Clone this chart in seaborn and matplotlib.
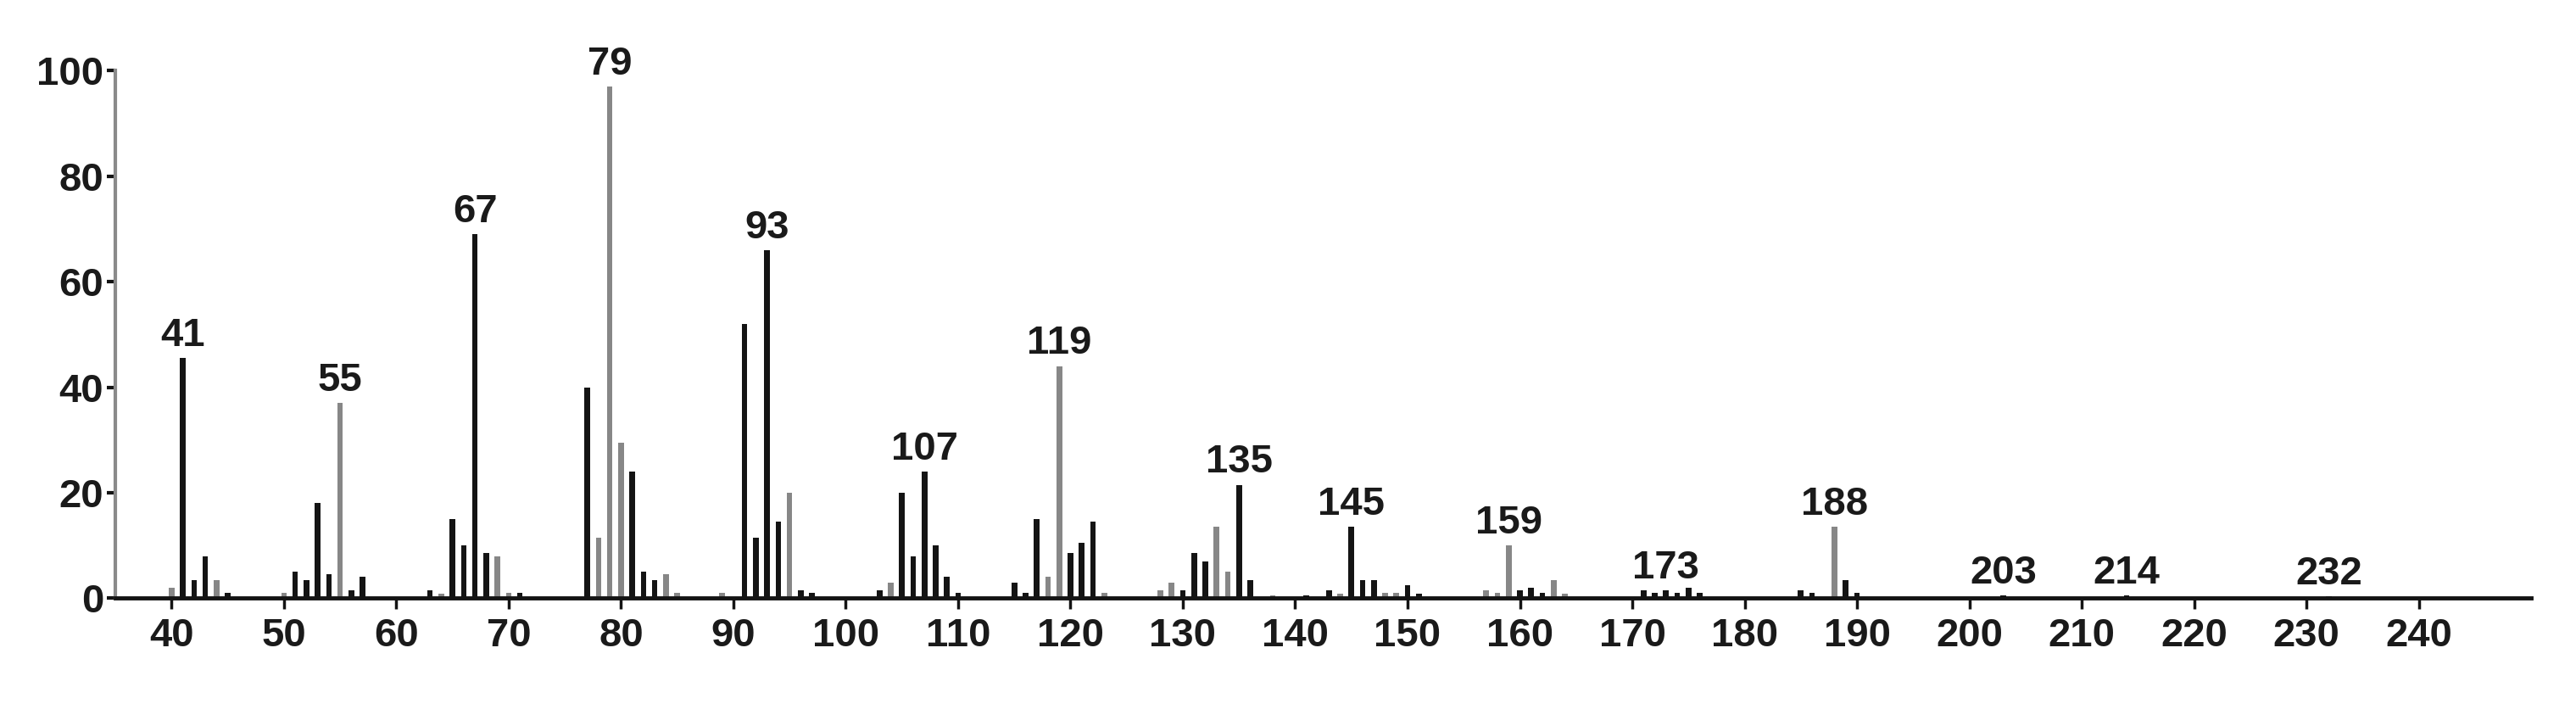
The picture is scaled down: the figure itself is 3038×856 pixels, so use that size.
import numpy as np
import pandas as pd
import matplotlib.pyplot as plt
import seaborn as sns

# ── Dados do espectro (m/z, intensidade relativa, tom da barra) ──────────────
MZ = [40, 41, 42, 43, 44, 45,
      50, 51, 52, 53, 54, 55, 56, 57,
      63, 64, 65, 66, 67, 68, 69, 70, 71,
      77, 78, 79, 80, 81, 82, 83, 84, 85,
      89, 91, 92, 93, 94, 95, 96, 97,
      103, 104, 105, 106, 107, 108, 109, 110,
      115, 116, 117, 118, 119, 120, 121, 122, 123,
      128, 129, 130, 131, 132, 133, 134, 135, 136, 138,
      141, 143, 144, 145, 146, 147, 148, 149, 150, 151,
      157, 158, 159, 160, 161, 162, 163, 164,
      171, 172, 173, 174, 175, 176,
      185, 186, 188, 189, 190,
      203, 214, 232]

INTENSIDADE = [2, 45.5, 3.5, 8, 3.5, 1,
               1, 5, 3.5, 18, 4.5, 37, 1.5, 4,
               1.5, 0.8, 15, 10, 69, 8.5, 8, 1, 1,
               40, 11.5, 97, 29.5, 24, 5, 3.5, 4.5, 1,
               1, 52, 11.5, 66, 14.5, 20, 1.5, 1,
               1.5, 3, 20, 8, 24, 10, 4, 1,
               3, 1, 15, 4, 44, 8.5, 10.5, 14.5, 1,
               1.5, 3, 1.5, 8.5, 7, 13.5, 5, 21.5, 3.5, 0.5,
               0.5, 1.5, 0.8, 13.5, 3.5, 3.5, 1, 1, 2.5, 0.8,
               1.5, 1, 10, 1.5, 2, 1, 3.5, 0.8,
               1.5, 1, 1.5, 1, 2, 1,
               1.5, 1, 13.5, 3.5, 1,
               0.5, 0.5, 0.3]

TOM = ["cinza", "preto", "preto", "preto", "cinza", "preto",
       "cinza", "preto", "preto", "preto", "preto", "cinza", "preto", "preto",
       "preto", "cinza", "preto", "preto", "preto", "preto", "cinza", "cinza", "preto",
       "preto", "cinza", "cinza", "cinza", "preto", "preto", "preto", "cinza", "cinza",
       "cinza", "preto", "preto", "preto", "preto", "cinza", "preto", "preto",
       "preto", "cinza", "preto", "preto", "preto", "preto", "preto", "preto",
       "preto", "preto", "preto", "cinza", "cinza", "preto", "preto", "preto", "cinza",
       "cinza", "cinza", "preto", "preto", "preto", "cinza", "cinza", "preto", "preto", "cinza",
       "preto", "preto", "cinza", "preto", "preto", "preto", "cinza", "cinza", "preto", "preto",
       "cinza", "cinza", "cinza", "preto", "preto", "preto", "cinza", "cinza",
       "preto", "preto", "preto", "preto", "preto", "preto",
       "preto", "preto", "cinza", "preto", "preto",
       "preto", "preto", "preto"]

PICOS_ROTULADOS = [41, 55, 67, 79, 93, 107, 119, 135, 145, 159, 173, 188, 203, 214, 232]

X_TICKS = list(range(40, 241, 10))
Y_TICKS = [0, 20, 40, 60, 80, 100]

CORES = {"preto": "#141414", "cinza": "#878787"}

df = pd.DataFrame({"mz": MZ, "intensidade": INTENSIDADE, "tom": TOM})

# ── Figura ────────────────────────────────────────────────────────────────────
sns.set_style("ticks")
plt.rcParams["font.family"] = ["Liberation Sans", "DejaVu Sans"]
plt.rcParams["font.weight"] = "bold"

fig = plt.figure(figsize=(30.38, 8.56), dpi=100)
ax = fig.add_axes([0.0448, 0.176, 0.9378, 0.7267])

sns.barplot(data=df, x="mz", y="intensidade", hue="tom", palette=CORES,
            native_scale=True, dodge=False, width=0.5, saturation=1,
            legend=False, linewidth=0, ax=ax)

# rótulos dos picos principais
for mz in PICOS_ROTULADOS:
    h = df.loc[df["mz"] == mz, "intensidade"].iloc[0]
    ax.annotate(str(mz), xy=(mz, h), xytext=(0, 3), textcoords="offset points",
                ha="center", va="bottom", fontsize=34, fontweight="bold",
                color="#1a1a1a")

ax.set_xlim(35, 250)
ax.set_ylim(0, 100)
ax.set_xticks(X_TICKS)
ax.set_yticks(Y_TICKS)
ax.set_xlabel("")
ax.set_ylabel("")

sns.despine(ax=ax)
ax.spines["left"].set_color("#8a8a8a")
ax.spines["left"].set_linewidth(3)
ax.spines["bottom"].set_color("#141414")
ax.spines["bottom"].set_linewidth(3.5)

ax.tick_params(axis="y", direction="out", length=7, width=3, color="#141414",
               labelsize=34, pad=3)
ax.tick_params(axis="x", direction="out", length=9, width=2.5, color="#141414",
               labelsize=34, pad=7)
for lbl in ax.get_xticklabels() + ax.get_yticklabels():
    lbl.set_fontweight("bold")
    lbl.set_color("#1a1a1a")

plt.savefig("out.png", dpi=100)
